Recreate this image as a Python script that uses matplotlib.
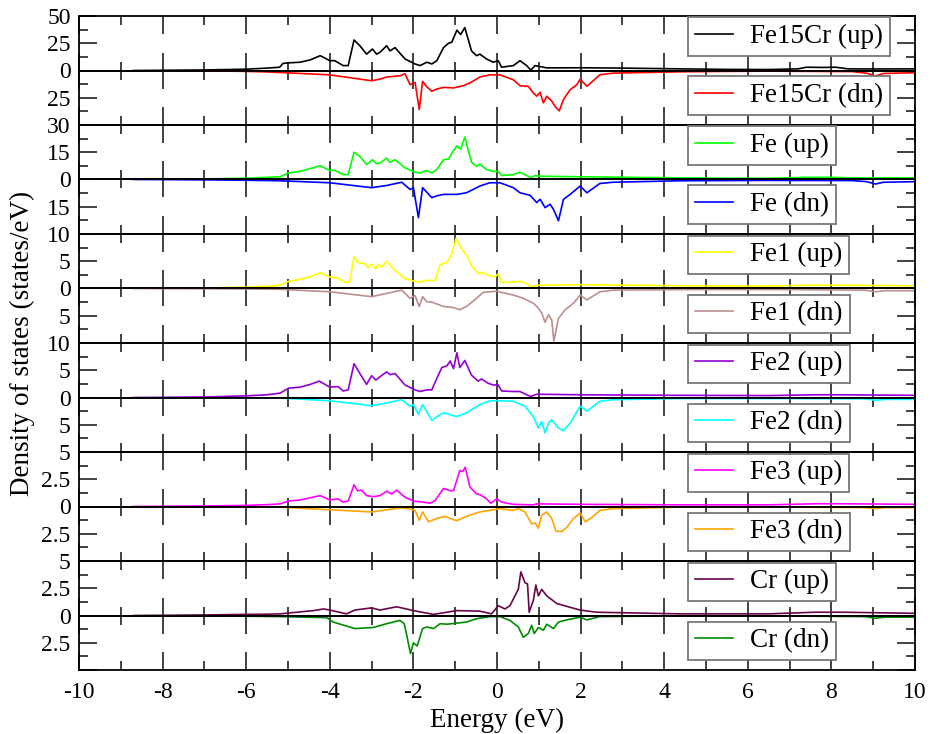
import matplotlib
matplotlib.use('Agg')
import matplotlib.pyplot as plt
from matplotlib.ticker import MultipleLocator, FixedLocator, FuncFormatter

plt.rcParams['font.family'] = ['Liberation Serif', 'DejaVu Serif']
plt.rcParams['axes.unicode_minus'] = False

# ---- data (energy in eV, DOS in states/eV) ----
fe15cr_up_E = [-8.7, -8.0, -7.0, -6.0, -5.5, -5.2, -5.12, -4.99, -4.71, -4.47, -4.23, -4.0, -3.88, -3.68, -3.56,
               -3.42, -3.28, -3.12, -2.98, -2.88, -2.80, -2.64, -2.56, -2.44, -2.20, -1.96, -1.84, -1.68, -1.56,
               -1.44, -1.28, -1.16, -1.08, -0.96, -0.87, -0.77, -0.61, -0.49, -0.41, -0.25, -0.09, 0.03, 0.11,
               0.39, 0.55, 0.71, 0.81, 0.91, 1.03, 1.19, 1.99, 3.0, 4.38, 5.5, 6.5, 7.2, 7.4, 7.8, 8.1, 8.4,
               9.0, 10.0]
fe15cr_up = [0, 0.2, 0.5, 1.2, 2.2, 3.0, 6.5, 7.0, 7.6, 9.7, 13.6, 9.0, 9.0, 4.5, 4.5,
             28, 22.7, 15, 19.7, 15, 16.7, 22.7, 18, 21, 10.6, 6, 4.5, 7.6, 6,
             9, 21, 25, 26, 37, 33, 39.4, 18, 13.6, 15, 10.6, 7.6, 9, 3,
             4.5, 9, 4.5, 0.3, 4.5, 3.6, 2.4, 2.5, 2.2, 1.5, 1.0, 0.9, 1.5, 3.0, 2.8, 3.0, 1.5,
             1.4, 1.5]

fe15cr_dn_E = [-8.7, -8.0, -7.0, -6.0, -5.5, -5.19, -4.0, -3.0, -2.80, -2.64, -2.32, -2.20, -2.08, -1.96, -1.86,
               -1.78, -1.68, -1.56, -1.44, -1.28, -1.04, -0.81, -0.65, -0.41, -0.17, 0.07, 0.39, 0.55, 0.75,
               0.87, 0.95, 1.03, 1.11, 1.19, 1.31, 1.39, 1.49, 1.59, 1.75, 1.91, 1.99, 2.15, 2.46, 2.78,
               4.38, 5.5, 6.5, 7.5, 8.5, 8.85, 9.05, 9.25, 10.0]
fe15cr_dn = [0, -0.1, -0.3, -0.8, -1.3, -1.8, -4, -9.4, -7.9, -6, -4.8, -3, -13, -11, -35.8,
             -10, -15, -19, -17, -15.5, -16, -14, -11.5, -6, -4, -4, -8.5, -14, -14.5,
             -20.6, -23.6, -20, -29.7, -23.6, -28, -33, -37, -26.7, -17.6, -13, -8, -14.5, -4, -2.4,
             -1.2, -0.8, -0.6, -0.8, -1.0, -2.5, -5.0, -2.7, -2.0]

fe_up_E = [-8.7, -8.0, -7.0, -6.0, -5.5, -5.19, -4.99, -4.71, -4.47, -4.23, -4.0, -3.88, -3.68, -3.56, -3.42,
           -3.28, -3.12, -2.98, -2.88, -2.80, -2.64, -2.56, -2.44, -2.20, -1.96, -1.84, -1.68, -1.56, -1.44,
           -1.28, -1.16, -1.08, -0.96, -0.87, -0.77, -0.61, -0.49, -0.41, -0.25, -0.09, 0.03, 0.11, 0.39,
           0.55, 0.71, 0.81, 0.91, 1.03, 1.99, 4.38, 5.5, 6.5, 7.4, 8.0, 8.4, 10.0]
fe_up = [0, 0.1, 0.3, 0.7, 1.2, 1.5, 3.6, 4.5, 6, 7.6, 5, 5, 2.7, 2.7, 15,
         12.7, 8.2, 10.9, 8.7, 9, 11.8, 9.5, 10.9, 6.4, 4, 3.6, 5, 3.6, 5.5,
         10.9, 11.3, 14.5, 18.5, 16.7, 23.3, 9.5, 7.3, 8.5, 5.5, 4.5, 4.5, 2.2, 2.7,
         4, 2.2, 0.9, 2.2, 1.8, 1.5, 0.9, 0.7, 0.7, 1.2, 1.2, 0.9, 0.9]

fe_dn_E = [-8.7, -8.0, -7.0, -6.0, -5.19, -4.0, -3.0, -2.64, -2.28, -2.08, -2.0, -1.88, -1.78, -1.56, -1.44,
           -1.28, -0.96, -0.73, -0.41, -0.17, 0.07, 0.39, 0.55, 0.79, 0.95, 1.03, 1.15, 1.27, 1.35,
           1.47, 1.59, 1.75, 1.99, 2.15, 2.46, 2.78, 4.38, 6.5, 8.5, 8.85, 9.05, 9.25, 10.0]
fe_dn = [0, -0.05, -0.2, -0.4, -0.7, -1.8, -4.5, -3.3, -1.5, -5.5, -4.5, -21, -4.5, -10, -9,
         -8.2, -8.2, -7.3, -3.6, -1.8, -1.8, -4.5, -7.3, -8.7, -12.7, -10.9, -15.5, -13.6, -16.4,
         -22.7, -10.9, -8.2, -3.6, -7.3, -2.2, -1.5, -0.7, -0.5, -0.6, -1.2, -2.5, -1.5, -1.2]

fe1_up_E = [-8.7, -8.0, -7.0, -6.0, -5.5, -5.19, -4.99, -4.71, -4.47, -4.23, -4.0, -3.80, -3.64, -3.52, -3.42,
            -3.34, -3.16, -3.08, -3.0, -2.90, -2.84, -2.76, -2.64, -2.44, -2.20, -1.96, -1.84, -1.68, -1.48,
            -1.36, -1.20, -1.08, -0.98, -0.85, -0.73, -0.61, -0.45, -0.37, -0.21, -0.05, 0.03, 0.11, 0.39,
            0.55, 0.71, 0.81, 0.95, 1.99, 4.38, 6.5, 7.5, 8.2, 10.0]
fe1_up = [0, 0.03, 0.1, 0.25, 0.4, 0.6, 1.3, 1.7, 2.1, 2.9, 2.1, 1.9, 1.1, 1.3, 5.9,
          4.8, 4.5, 3.8, 4.5, 3.6, 4.4, 3.9, 4.96, 3.3, 1.8, 1.3, 1.2, 1.5, 1.5,
          4.4, 4.8, 6.4, 9.2, 7.3, 6.1, 4.2, 2.7, 3.0, 2.4, 2.1, 2.7, 1.1, 1.2,
          1.3, 0.9, 0.3, 0.6, 0.7, 0.5, 0.45, 0.6, 0.6, 0.5]

fe1_dn_E = [-8.7, -7.0, -6.0, -5.19, -4.0, -3.0, -2.64, -2.28, -2.08, -1.96, -1.86, -1.78, -1.68, -1.56, -1.28,
            -1.04, -0.89, -0.73, -0.49, -0.33, -0.01, 0.39, 0.63, 0.87, 0.99, 1.07, 1.15, 1.23, 1.31,
            1.36, 1.47, 1.63, 1.83, 1.99, 2.15, 2.46, 2.78, 4.38, 7.0, 8.8, 9.05, 9.3, 10.0]
fe1_dn = [0, -0.05, -0.1, -0.15, -0.6, -1.5, -0.9, -0.3, -1.8, -1.3, -3.3, -1.5, -2.4, -2.5, -3.3,
          -3.5, -3.9, -3.3, -1.8, -0.7, -0.5, -1.2, -1.8, -2.7, -3.6, -4.5, -6.2, -4.8, -5.8,
          -9.7, -5.5, -3.9, -2.7, -1.2, -2.1, -0.6, -0.3, -0.2, -0.2, -0.3, -0.6, -0.4, -0.4]

fe2_up_E = [-8.7, -8.0, -7.0, -6.0, -5.5, -5.19, -4.99, -4.71, -4.47, -4.25, -4.0, -3.80, -3.68, -3.56, -3.42,
            -3.28, -3.12, -3.0, -2.90, -2.80, -2.64, -2.56, -2.44, -2.20, -1.96, -1.84, -1.68, -1.56, -1.44,
            -1.32, -1.20, -1.12, -1.04, -0.96, -0.89, -0.77, -0.61, -0.45, -0.37, -0.21, -0.09, 0.03, 0.11,
            0.39, 0.55, 0.71, 0.81, 0.95, 1.99, 4.38, 6.5, 7.6, 8.2, 10.0]
fe2_up = [0, 0.03, 0.1, 0.3, 0.5, 0.8, 1.7, 1.9, 2.4, 3.0, 1.9, 2.0, 1.2, 1.4, 6.2,
          4.4, 2.4, 4.0, 3.2, 3.8, 4.7, 4.2, 4.4, 2.3, 1.4, 1.1, 1.4, 1.4, 3.5,
          5.5, 5.8, 6.7, 5.3, 8.2, 5.5, 6.8, 4.1, 3.0, 3.4, 2.6, 2.3, 2.3, 1.2,
          1.1, 1.1, 0.5, 0.2, 0.6, 0.5, 0.4, 0.35, 0.5, 0.5, 0.4]

fe2_dn_E = [-8.7, -7.0, -6.0, -5.19, -4.0, -3.0, -2.64, -2.28, -2.08, -2.0, -1.88, -1.78, -1.56, -1.44, -1.28,
            -0.96, -0.73, -0.41, -0.17, 0.07, 0.39, 0.67, 0.87, 0.99, 1.07, 1.15, 1.23, 1.31, 1.47,
            1.59, 1.75, 1.91, 1.99, 2.15, 2.46, 2.78, 4.38, 7.0, 8.8, 9.05, 9.3, 10.0]
fe2_dn = [0, -0.05, -0.08, -0.1, -0.6, -1.5, -1.0, -0.4, -1.6, -1.3, -3.1, -1.3, -4.2, -3.5, -2.8,
          -3.5, -2.8, -1.3, -0.6, -0.6, -0.7, -1.6, -3.5, -5.6, -4.4, -6.5, -4.7, -4.1, -5.6,
          -6.1, -4.7, -2.6, -1.6, -2.5, -0.7, -0.4, -0.2, -0.2, -0.25, -0.5, -0.35, -0.35]

fe3_up_E = [-8.7, -8.0, -7.0, -6.0, -5.5, -5.19, -4.99, -4.71, -4.47, -4.23, -4.0, -3.80, -3.68, -3.56, -3.42,
            -3.34, -3.24, -3.12, -2.96, -2.80, -2.64, -2.52, -2.40, -2.20, -2.0, -1.76, -1.60, -1.48, -1.28,
            -1.12, -1.04, -0.89, -0.82, -0.76, -0.65, -0.49, -0.41, -0.25, -0.15, -0.01, 0.11, 0.39, 0.87,
            0.95, 1.99, 4.38, 6.5, 7.6, 8.2, 10.0]
fe3_up = [0, 0.02, 0.05, 0.1, 0.17, 0.24, 0.5, 0.6, 0.8, 1.0, 0.6, 0.7, 0.4, 0.5, 2.0,
          1.45, 1.5, 1.0, 0.9, 1.0, 1.4, 1.15, 1.5, 0.85, 0.5, 0.4, 0.3, 0.55, 1.65,
          1.45, 1.45, 3.3, 3.2, 3.6, 1.8, 1.15, 1.1, 0.7, 0.3, 0.7, 0.4, 0.2, 0.15,
          0.24, 0.2, 0.15, 0.15, 0.25, 0.25, 0.2]

fe3_dn_E = [-8.7, -7.0, -5.19, -4.0, -3.0, -2.64, -2.28, -2.12, -1.96, -1.86, -1.78, -1.64, -1.44, -1.24, -1.12,
            -0.96, -0.73, -0.41, -0.09, 0.07, 0.39, 0.51, 0.67, 0.83, 0.91, 0.99, 1.07, 1.19, 1.31,
            1.41, 1.55, 1.67, 1.83, 1.99, 2.11, 2.27, 2.46, 2.78, 4.38, 7.0, 8.8, 9.05, 9.3, 10.0]
fe3_dn = [0, -0.02, -0.06, -0.3, -0.5, -0.3, -0.12, -0.2, -0.36, -1.27, -0.5, -1.4, -1.1, -0.9, -1.1,
          -1.3, -0.9, -0.5, -0.3, -0.2, -0.36, -0.2, -0.5, -1.6, -1.5, -2.0, -0.8, -0.5, -1.1,
          -2.25, -2.3, -1.9, -1.1, -0.6, -1.4, -1.0, -0.36, -0.2, -0.06, -0.06, -0.1, -0.2, -0.1, -0.1]

cr_up_E = [-8.7, -8.0, -7.0, -6.0, -5.5, -5.19, -4.79, -4.39, -4.15, -4.0, -3.60, -3.40, -3.0, -2.80, -2.40,
           -2.0, -1.52, -1.20, -0.96, -0.41, -0.13, 0.03, 0.19, 0.31, 0.43, 0.51, 0.57, 0.67, 0.73,
           0.77, 0.87, 0.93, 0.99, 1.07, 1.19, 1.43, 1.75, 1.99, 2.38, 4.38, 6.5, 7.6, 8.3, 10.0]
cr_up = [0, 0.02, 0.05, 0.1, 0.12, 0.15, 0.3, 0.45, 0.6, 0.5, 0.15, 0.5, 0.7, 0.5, 0.8,
         0.45, 0.1, 0.3, 0.45, 0.4, 0.15, 0.9, 0.6, 0.9, 1.8, 2.4, 4.0, 3.0, 2.9,
         0.3, 1.4, 2.8, 1.8, 2.4, 1.8, 1.1, 0.75, 0.5, 0.3, 0.15, 0.15, 0.3, 0.3, 0.2]

cr_dn_E = [-8.7, -7.0, -5.19, -4.07, -3.92, -3.40, -2.96, -2.64, -2.32, -2.22, -2.16, -2.07, -2.0, -1.91, -1.78,
           -1.68, -1.52, -1.36, -1.20, -0.96, -0.73, -0.49, -0.17, 0.07, 0.31, 0.51, 0.63, 0.75, 0.83,
           0.89, 0.99, 1.11, 1.19, 1.35, 1.47, 1.67, 1.99, 2.15, 2.46, 4.38, 7.0, 8.8, 9.05, 9.3, 10.0]
cr_dn = [0, -0.03, -0.1, -0.2, -0.6, -1.2, -1.1, -0.75, -0.45, -0.75, -1.8, -3.5, -2.5, -2.8, -1.2,
         -1.05, -1.2, -0.75, -0.8, -0.7, -0.6, -0.3, -0.1, -0.1, -0.45, -1.05, -2.0, -1.65, -0.9,
         -1.65, -1.1, -1.35, -0.8, -1.2, -0.6, -0.4, -0.15, -0.4, -0.1, -0.03, -0.05, -0.1, -0.25, -0.15, -0.15]

names = ['Fe15Cr', 'Fe', 'Fe1', 'Fe2', 'Fe3', 'Cr']
y_max = [50, 30, 10, 10, 5, 5]
up_E = [fe15cr_up_E, fe_up_E, fe1_up_E, fe2_up_E, fe3_up_E, cr_up_E]
up_dos = [fe15cr_up, fe_up, fe1_up, fe2_up, fe3_up, cr_up]
dn_E = [fe15cr_dn_E, fe_dn_E, fe1_dn_E, fe2_dn_E, fe3_dn_E, cr_dn_E]
dn_dos = [fe15cr_dn, fe_dn, fe1_dn, fe2_dn, fe3_dn, cr_dn]
up_colors = ['#000000', '#00ff00', '#ffff00', '#9400d3', '#ff00ff', '#670748']
dn_colors = ['#ff0000', '#0000ff', '#bc8f8f', '#00ffff', '#ffa500', '#008b00']

# ---- layout: 12 stacked graphs (up/dn per species) ----
W, H = 932, 734
left, right = 79 / W, 915 / W
top, bottom = 1 - 16 / H, 1 - 670 / H
gh = (top - bottom) / 12

fig = plt.figure(figsize=(W / 100, H / 100), dpi=100)


def abs_fmt(v, pos):
    return '%g' % abs(v)


def style_axis(ax):
    ax.set_xlim(-10, 10)
    ax.xaxis.set_major_locator(MultipleLocator(2))
    ax.xaxis.set_minor_locator(MultipleLocator(1))
    ax.tick_params(which='both', direction='in', top=True, right=True,
                   width=1.3, color='#333333', labelsize=17, pad=6)
    ax.tick_params(axis='x', pad=9)
    ax.tick_params(which='major', length=13)
    ax.tick_params(which='minor', length=6.5)
    for sp in ax.spines.values():
        sp.set_linewidth(1.3)
    ax.set_facecolor('none')


def add_legend(ax, y_off):
    leg = ax.legend(loc='upper left', bbox_to_anchor=(0.7285, 1 - y_off / 54.5), frameon=True,
                    fancybox=False, edgecolor='#777777', framealpha=1, fontsize=19.5,
                    handlelength=1.4, handletextpad=0.65, borderpad=0.25, borderaxespad=0)
    leg.get_frame().set_linewidth(1.3)


for i in range(6):
    ymax = y_max[i]
    y_up = top - (2 * i + 1) * gh
    y_dn = top - (2 * i + 2) * gh

    # spin up
    ax = fig.add_axes([left, y_up, right - left, gh])
    style_axis(ax)
    ax.plot(up_E[i], up_dos[i], color=up_colors[i], lw=1.2, label=names[i] + ' (up)')
    ax.set_ylim(0, ymax)
    ax.yaxis.set_major_locator(FixedLocator([0, ymax / 2, ymax]))
    ax.yaxis.set_minor_locator(FixedLocator([ymax / 4, 3 * ymax / 4]))
    ax.yaxis.set_major_formatter(FuncFormatter(abs_fmt))
    ax.tick_params(labelbottom=False)
    add_legend(ax, 1.5)

    # spin down
    ax = fig.add_axes([left, y_dn, right - left, gh])
    style_axis(ax)
    ax.plot(dn_E[i], dn_dos[i], color=dn_colors[i], lw=1.2, label=names[i] + ' (dn)')
    ax.set_ylim(-ymax, 0)
    ax.yaxis.set_major_locator(FixedLocator([-ymax, -ymax / 2, 0]))
    ax.yaxis.set_minor_locator(FixedLocator([-ymax / 4, -3 * ymax / 4]))
    ax.yaxis.set_major_formatter(FuncFormatter(
        lambda v, pos, m=ymax: '%g' % abs(v) if abs(abs(v) - m / 2) < 1e-9 else ''))
    if i < 5:
        ax.tick_params(labelbottom=False)
    add_legend(ax, 6)

ax.set_xlabel('Energy (eV)', fontsize=19.5, labelpad=3)
fig.text(22 / W, 1 - 343 / H, 'Density of states (states/eV)', rotation=90,
         ha='center', va='center', fontsize=19.5)

plt.savefig('out.png', dpi=100)
